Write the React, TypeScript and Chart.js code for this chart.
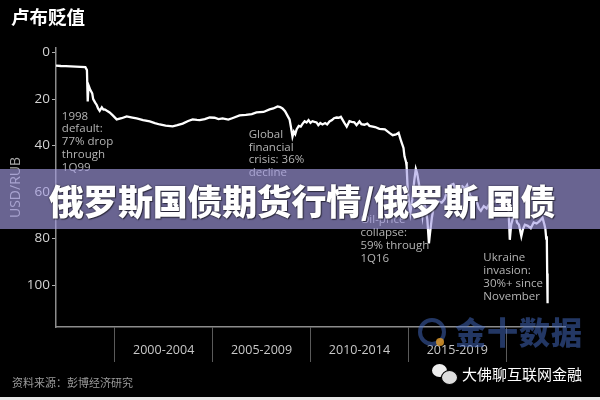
import React, { useEffect, useRef } from "react";
import { Chart, registerables } from "chart.js";

Chart.register(...registerables);

// ---- data (USD/RUB) ----
const years = [
  1997.0, 1997.25, 1997.5, 1997.75, 1998.0, 1998.25, 1998.5, 1998.58, 1998.62, 1998.66,
  1998.75, 1998.85, 1998.9, 1999.0, 1999.08, 1999.15, 1999.23, 1999.34, 1999.42, 1999.49,
  1999.6, 1999.74, 1999.9, 2000.1, 2000.35, 2000.61, 2000.9, 2001.12, 2001.45, 2001.79,
  2002.05, 2002.3, 2002.6, 2002.96, 2003.2, 2003.47, 2003.75, 2003.98, 2004.2, 2004.34,
  2004.6, 2004.85, 2005.1, 2005.3, 2005.51, 2005.8, 2006.0, 2006.38, 2006.7, 2007.0,
  2007.24, 2007.6, 2007.91, 2008.1, 2008.32, 2008.45, 2008.57, 2008.7, 2008.85, 2008.93,
  2009.0, 2009.08, 2009.15, 2009.22, 2009.29, 2009.4, 2009.5, 2009.6, 2009.7, 2009.8,
  2009.9, 2010.0, 2010.1, 2010.2, 2010.31, 2010.4, 2010.5, 2010.61, 2010.75, 2010.85,
  2010.97, 2011.1, 2011.2, 2011.33, 2011.45, 2011.55, 2011.73, 2011.85, 2011.99, 2012.1,
  2012.24, 2012.35, 2012.5, 2012.6, 2012.75, 2012.9, 2013.01, 2013.3, 2013.52, 2013.8,
  2014.03, 2014.2, 2014.37, 2014.5, 2014.63, 2014.75, 2014.8, 2014.88, 2014.91, 2014.96,
  2015.0, 2015.05, 2015.1, 2015.2, 2015.3, 2015.38, 2015.45, 2015.55, 2015.65, 2015.72,
  2015.8, 2015.9, 2015.97, 2016.05, 2016.1, 2016.2, 2016.3, 2016.4, 2016.55, 2016.7,
  2016.85, 2017.0, 2017.15, 2017.3, 2017.45, 2017.6, 2017.75, 2017.9, 2018.0, 2018.15,
  2018.3, 2018.45, 2018.6, 2018.7, 2018.85, 2019.0, 2019.1, 2019.25, 2019.4, 2019.55,
  2019.7, 2019.85, 2020.0, 2020.1, 2020.18, 2020.25, 2020.35, 2020.45, 2020.55, 2020.65,
  2020.77, 2020.85, 2020.95, 2021.1, 2021.25, 2021.4, 2021.55, 2021.7, 2021.85, 2021.95,
  2022.0, 2022.04, 2022.07, 2022.09, 2022.11,
];
const rubPerUsd = [
  5.6, 5.75, 5.8, 5.9, 6.0, 6.1, 6.25, 7.5, 21, 14,
  16, 17.5, 20, 21.5, 22.5, 24, 25, 23.5, 24.5, 24.4,
  25.0, 25.7, 27, 28.7, 28.2, 27.4, 27.9, 28.3, 29.0, 29.6,
  30.3, 30.9, 31.4, 31.7, 31.2, 30.5, 29.4, 28.7, 28.9, 29.0,
  28.6, 27.9, 28.0, 28.6, 28.3, 28.8, 28.2, 27.0, 26.8, 26.4,
  25.7, 25.5, 24.4, 24.0, 23.1, 23.4, 24.0, 25.2, 27.5, 28.7,
  32, 36.1, 34, 35, 33.0, 31.5, 31.8, 30.5, 29.5, 30.0,
  29.0, 30.2, 29.5, 29.8, 30.0, 31.2, 30.3, 30.9, 30.3, 30.9,
  29.6, 29.0, 28.2, 27.9, 28.0, 27.6, 30.2, 31.8, 29.5, 29.8,
  30.0, 31.2, 29.6, 30.8, 31.0, 30.5, 31.5, 32.0, 32.8, 33.0,
  34.5, 35.5, 35.2, 34.5, 38.1, 41, 44.6, 47, 48.9, 58,
  62, 66, 69, 63, 55, 50, 52, 57, 65, 70,
  64, 68, 72, 82, 78, 71, 66, 65, 64, 64.5,
  63, 59, 57, 56.5, 59.5, 58.5, 57.5, 58.5, 57, 61.5,
  62.5, 63, 67, 68, 66, 67, 65.5, 64.5, 64, 63.5,
  65, 64, 62, 64, 80.5, 74, 71, 69, 73, 74,
  79, 76, 74, 74.5, 75.5, 73, 73.5, 72.5, 71, 74,
  76, 80, 79, 95, 107.8,
];

// ---- axes ----
const periodStarts = [2000, 2005, 2010, 2015];
const periodLabels = ["2000-2004", "2005-2009", "2010-2014", "2015-2019"];
const boundaryYears = [2000, 2005, 2010, 2015, 2020];
const yTicks = [0, 20, 40, 60, 80, 100];

// ---- annotations ----
const noteTexts = [
  ["1998", "default:", "77% drop", "through", "1Q99"],
  ["Global", "financial", "crisis: 36%", "decline"],
  ["Oil-price", "collapse:", "59% through", "1Q16"],
  ["Ukraine", "invasion:", "30%+ since", "November"],
];
const noteYears = [1997.3, 2006.84, 2012.55, 2018.83];
const noteValues = [27.4, 35.2, 72, 88.3];

const notesPlugin = {
  id: "notes",
  afterDatasetsDraw(chart: any) {
    const { ctx, scales } = chart;
    ctx.save();
    ctx.fillStyle = "#b4b4b4";
    ctx.font = '11.5px "Open Sans", sans-serif';
    ctx.textAlign = "left";
    ctx.textBaseline = "middle";
    noteTexts.forEach((lines, i) => {
      const x = scales.x.getPixelForValue(noteYears[i]);
      const y0 = scales.y.getPixelForValue(noteValues[i]);
      lines.forEach((t, j) => ctx.fillText(t, x, y0 + j * 12.8));
    });
    ctx.restore();
  },
};

export default function App() {
  const ref = useRef<HTMLCanvasElement>(null);

  useEffect(() => {
    if (!ref.current) return;
    const points = years.map((x, i) => ({ x, y: rubPerUsd[i] }));
    const chart = new Chart(ref.current, {
      type: "line",
      data: {
        datasets: [
          {
            data: points,
            borderColor: "#ffffff",
            borderWidth: 2.3,
            pointRadius: 0,
            tension: 0,
          },
        ],
      },
      options: {
        animation: false,
        responsive: false,
        devicePixelRatio: 1,
        layout: { padding: { top: 48, right: 35, left: 0, bottom: 0 } },
        plugins: { legend: { display: false }, tooltip: { enabled: false } },
        scales: {
          x: {
            type: "linear",
            min: 1997,
            max: 2023,
            afterBuildTicks: (scale: any) => {
              const vals = [...boundaryYears, ...periodStarts.map((s) => s + 2.5)].sort((a, b) => a - b);
              scale.ticks = vals.map((v) => ({ value: v }));
            },
            afterFit: (scale: any) => {
              scale.height = 73;
            },
            grid: {
              drawOnChartArea: false,
              drawTicks: true,
              tickLength: 35,
              tickWidth: 1,
              tickColor: (c: any) =>
                c.tick && boundaryYears.includes(c.tick.value) ? "#5a5a5a" : "rgba(0,0,0,0)",
            },
            border: { display: true, color: "#8c8c8c", width: 1.5 },
            ticks: {
              autoSkip: false,
              maxRotation: 0,
              padding: -19,
              color: "#c8c8c8",
              font: { size: 12.5, family: '"Open Sans", sans-serif' },
              callback: (value: any) => {
                const i = periodStarts.findIndex((s) => Math.abs(s + 2.5 - Number(value)) < 0.01);
                return i >= 0 ? periodLabels[i] : "";
              },
            },
          },
          y: {
            type: "linear",
            reverse: true,
            min: -2,
            max: 118,
            afterBuildTicks: (scale: any) => {
              scale.ticks = yTicks.map((v) => ({ value: v }));
            },
            afterFit: (scale: any) => {
              scale.width = 56;
            },
            grid: {
              drawOnChartArea: false,
              drawTicks: true,
              tickLength: 4,
              tickColor: "#b0b0b0",
            },
            border: { display: true, color: "#8c8c8c", width: 1.5 },
            ticks: {
              padding: 2,
              color: "#d2d2d2",
              font: { size: 13.5, family: '"Open Sans", sans-serif' },
            },
            title: {
              display: true,
              text: "USD/RUB",
              color: "#a8a8a8",
              padding: { top: 8, bottom: 0 },
              font: { size: 14, family: '"Open Sans", sans-serif' },
            },
          },
        },
      },
      plugins: [notesPlugin],
    } as any);
    return () => chart.destroy();
  }, []);

  return (
    <div
      style={{
        position: "fixed",
        left: 0,
        top: 0,
        width: 600,
        height: 400,
        background: "#000",
        overflow: "hidden",
        fontFamily: '"Noto Sans CJK SC", sans-serif',
      }}
    >
      <canvas ref={ref} width={600} height={400} style={{ position: "absolute", left: 0, top: 0, width: 600, height: 400 }} />
      <div
        style={{
          position: "absolute",
          left: 11,
          top: 3,
          color: "#fff",
          fontSize: 18.5,
          fontWeight: 700,
          lineHeight: "26px",
        }}
      >
        卢布贬值
      </div>
      {/* watermark: 金十数据 */}
      <div
        style={{
          position: "absolute",
          left: 418,
          top: 318,
          width: 28,
          height: 28,
          borderRadius: "50%",
          border: "4px solid rgba(70,110,200,0.5)",
          boxSizing: "border-box",
        }}
      />
      <div
        style={{
          position: "absolute",
          left: 436,
          top: 338,
          width: 8,
          height: 8,
          borderRadius: "50%",
          background: "rgba(220,150,40,0.85)",
        }}
      />
      <div
        style={{
          position: "absolute",
          left: 455,
          top: 309,
          color: "rgba(70,110,200,0.5)",
          fontSize: 31,
          fontWeight: 900,
          lineHeight: "44px",
          letterSpacing: 1,
        }}
      >
        金十数据
      </div>
      {/* banner */}
      <div
        style={{
          position: "absolute",
          left: 0,
          top: 169,
          width: 600,
          height: 60,
          background: "rgba(167,159,230,0.63)",
        }}
      />
      <div
        style={{
          position: "absolute",
          left: 0,
          top: 169,
          width: 604,
          height: 60,
          lineHeight: "62px",
          textAlign: "center",
          color: "#fff",
          fontSize: 35,
          fontWeight: 900,
          letterSpacing: -0.3,
          textShadow: "0 0 2px rgba(0,0,0,0.6), 1px 1px 1px rgba(0,0,0,0.5)",
          whiteSpace: "nowrap",
        }}
      >
        俄罗斯国债期货行情/俄罗斯 国债
      </div>
      {/* footer */}
      <div
        style={{
          position: "absolute",
          left: 12,
          top: 374,
          color: "#9a9a9a",
          fontSize: 11,
          lineHeight: "16px",
        }}
      >
        资料来源：彭博经济研究
      </div>
      {/* wechat watermark */}
      <div style={{ position: "absolute", left: 432, top: 364, width: 15, height: 13, borderRadius: "50%", background: "#eee" }} />
      <div
        style={{
          position: "absolute",
          left: 441,
          top: 370,
          width: 15,
          height: 13,
          borderRadius: "50%",
          background: "#ddd",
          border: "1.5px solid #000",
        }}
      />
      <div
        style={{
          position: "absolute",
          left: 462,
          top: 363,
          color: "#fff",
          fontSize: 15,
          lineHeight: "22px",
          whiteSpace: "nowrap",
        }}
      >
        大佛聊互联网金融
      </div>
      <div style={{ position: "absolute", left: 0, top: 397, width: 600, height: 3, background: "#e8e8e8" }} />
    </div>
  );
}
